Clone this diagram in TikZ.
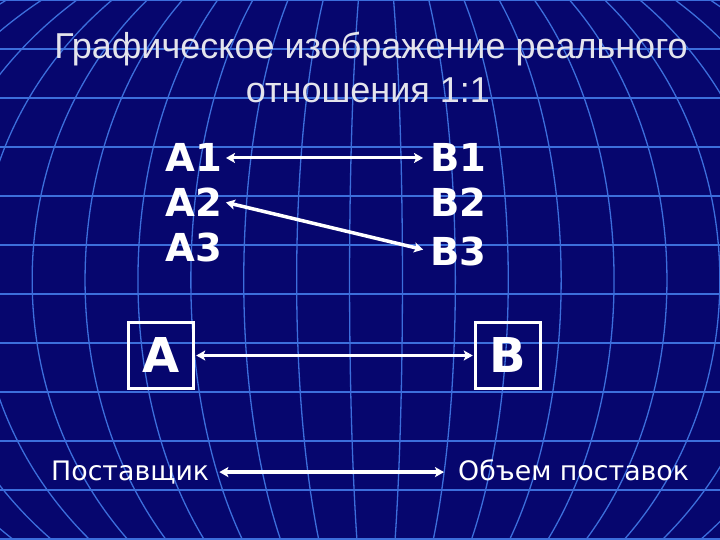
\documentclass[tikz,border=0pt]{standalone}
\usepackage{fontspec}
\setmainfont{Liberation Sans}
\newfontfamily\dvs{DejaVu Sans}
\usetikzlibrary{arrows.meta}
\definecolor{bgnavy}{RGB}{6,6,110}
\definecolor{gridblue}{RGB}{60,110,220}
\definecolor{titlegray}{RGB}{228,228,236}
\begin{document}
\begin{tikzpicture}[x=1pt,y=-1pt,
  gridline/.style={draw=gridblue, line width=1.3pt},
  titletext/.style={text=titlegray, inner sep=0pt, anchor=base, font=\fontsize{36}{40}\selectfont},
  lbl/.style={text=white, inner sep=0pt, inner xsep=1pt, anchor=base west, font=\dvs\bfseries\fontsize{38.5}{40}\selectfont},
  boxlbl/.style={draw=white, line width=3.5pt, text=white, minimum width=65pt, minimum height=66pt, inner sep=0pt, font=\dvs\bfseries\fontsize{48}{50}\selectfont},
  small/.style={text=white, inner sep=0pt, inner xsep=1pt, anchor=base west, font=\dvs\fontsize{26.8}{30}\selectfont},
  dbl/.style={draw=white, line width=3pt, {Stealth[length=9pt,width=10pt,inset=2pt]}-{Stealth[length=9pt,width=10pt,inset=2pt]}}
]
\fill[bgnavy] (0,0) rectangle (720,540);
\useasboundingbox (0,0) rectangle (720,540);
\begin{scope}
  \clip (0,0) rectangle (720,540);
  \foreach \k in {0,...,11} \draw[gridline] (0,49*\k) -- (720,49*\k);
  \foreach \k in {0,...,13} \draw[gridline] (376,280) ellipse [x radius={(\k+0.5)*52.9}, y radius=375];
\end{scope}

\node[titletext] (t1) at (371,59) {Графическое изображение реального};
\node[titletext] (t2) at (368,103) {отношения 1:1};

\node[lbl] (a1) at (164,172) {A1};
\node[lbl] (a2) at (164,216) {A2};
\node[lbl] (a3) at (164,261) {A3};
\node[lbl] (b1) at (429,172) {B1};
\node[lbl] (b2) at (429,217) {B2};
\node[lbl] (b3) at (429,265) {B3};

\draw[dbl, shorten <=3pt, shorten >=6pt] (a1.east) -- (b1.west);
\draw[dbl, line width=3.5pt, shorten <=3pt, shorten >=6pt] (a2.east) -- (b3.west);

\node[boxlbl] (boxA) at (161,355.5) {A};
\node[boxlbl] (boxB) at (508,355.5) {B};
\draw[dbl, line width=3.8pt, shorten <=1pt, shorten >=1pt] (boxA.east) -- (boxB.west);

\node[small] (sup) at (50,480) {Поставщик};
\node[small] (vol) at (457,480) {Объем поставок};
\draw[dbl, line width=3.5pt, shorten <=9pt, shorten >=13pt] (sup.east) -- (sup.east -| vol.west);
\end{tikzpicture}
\end{document}
